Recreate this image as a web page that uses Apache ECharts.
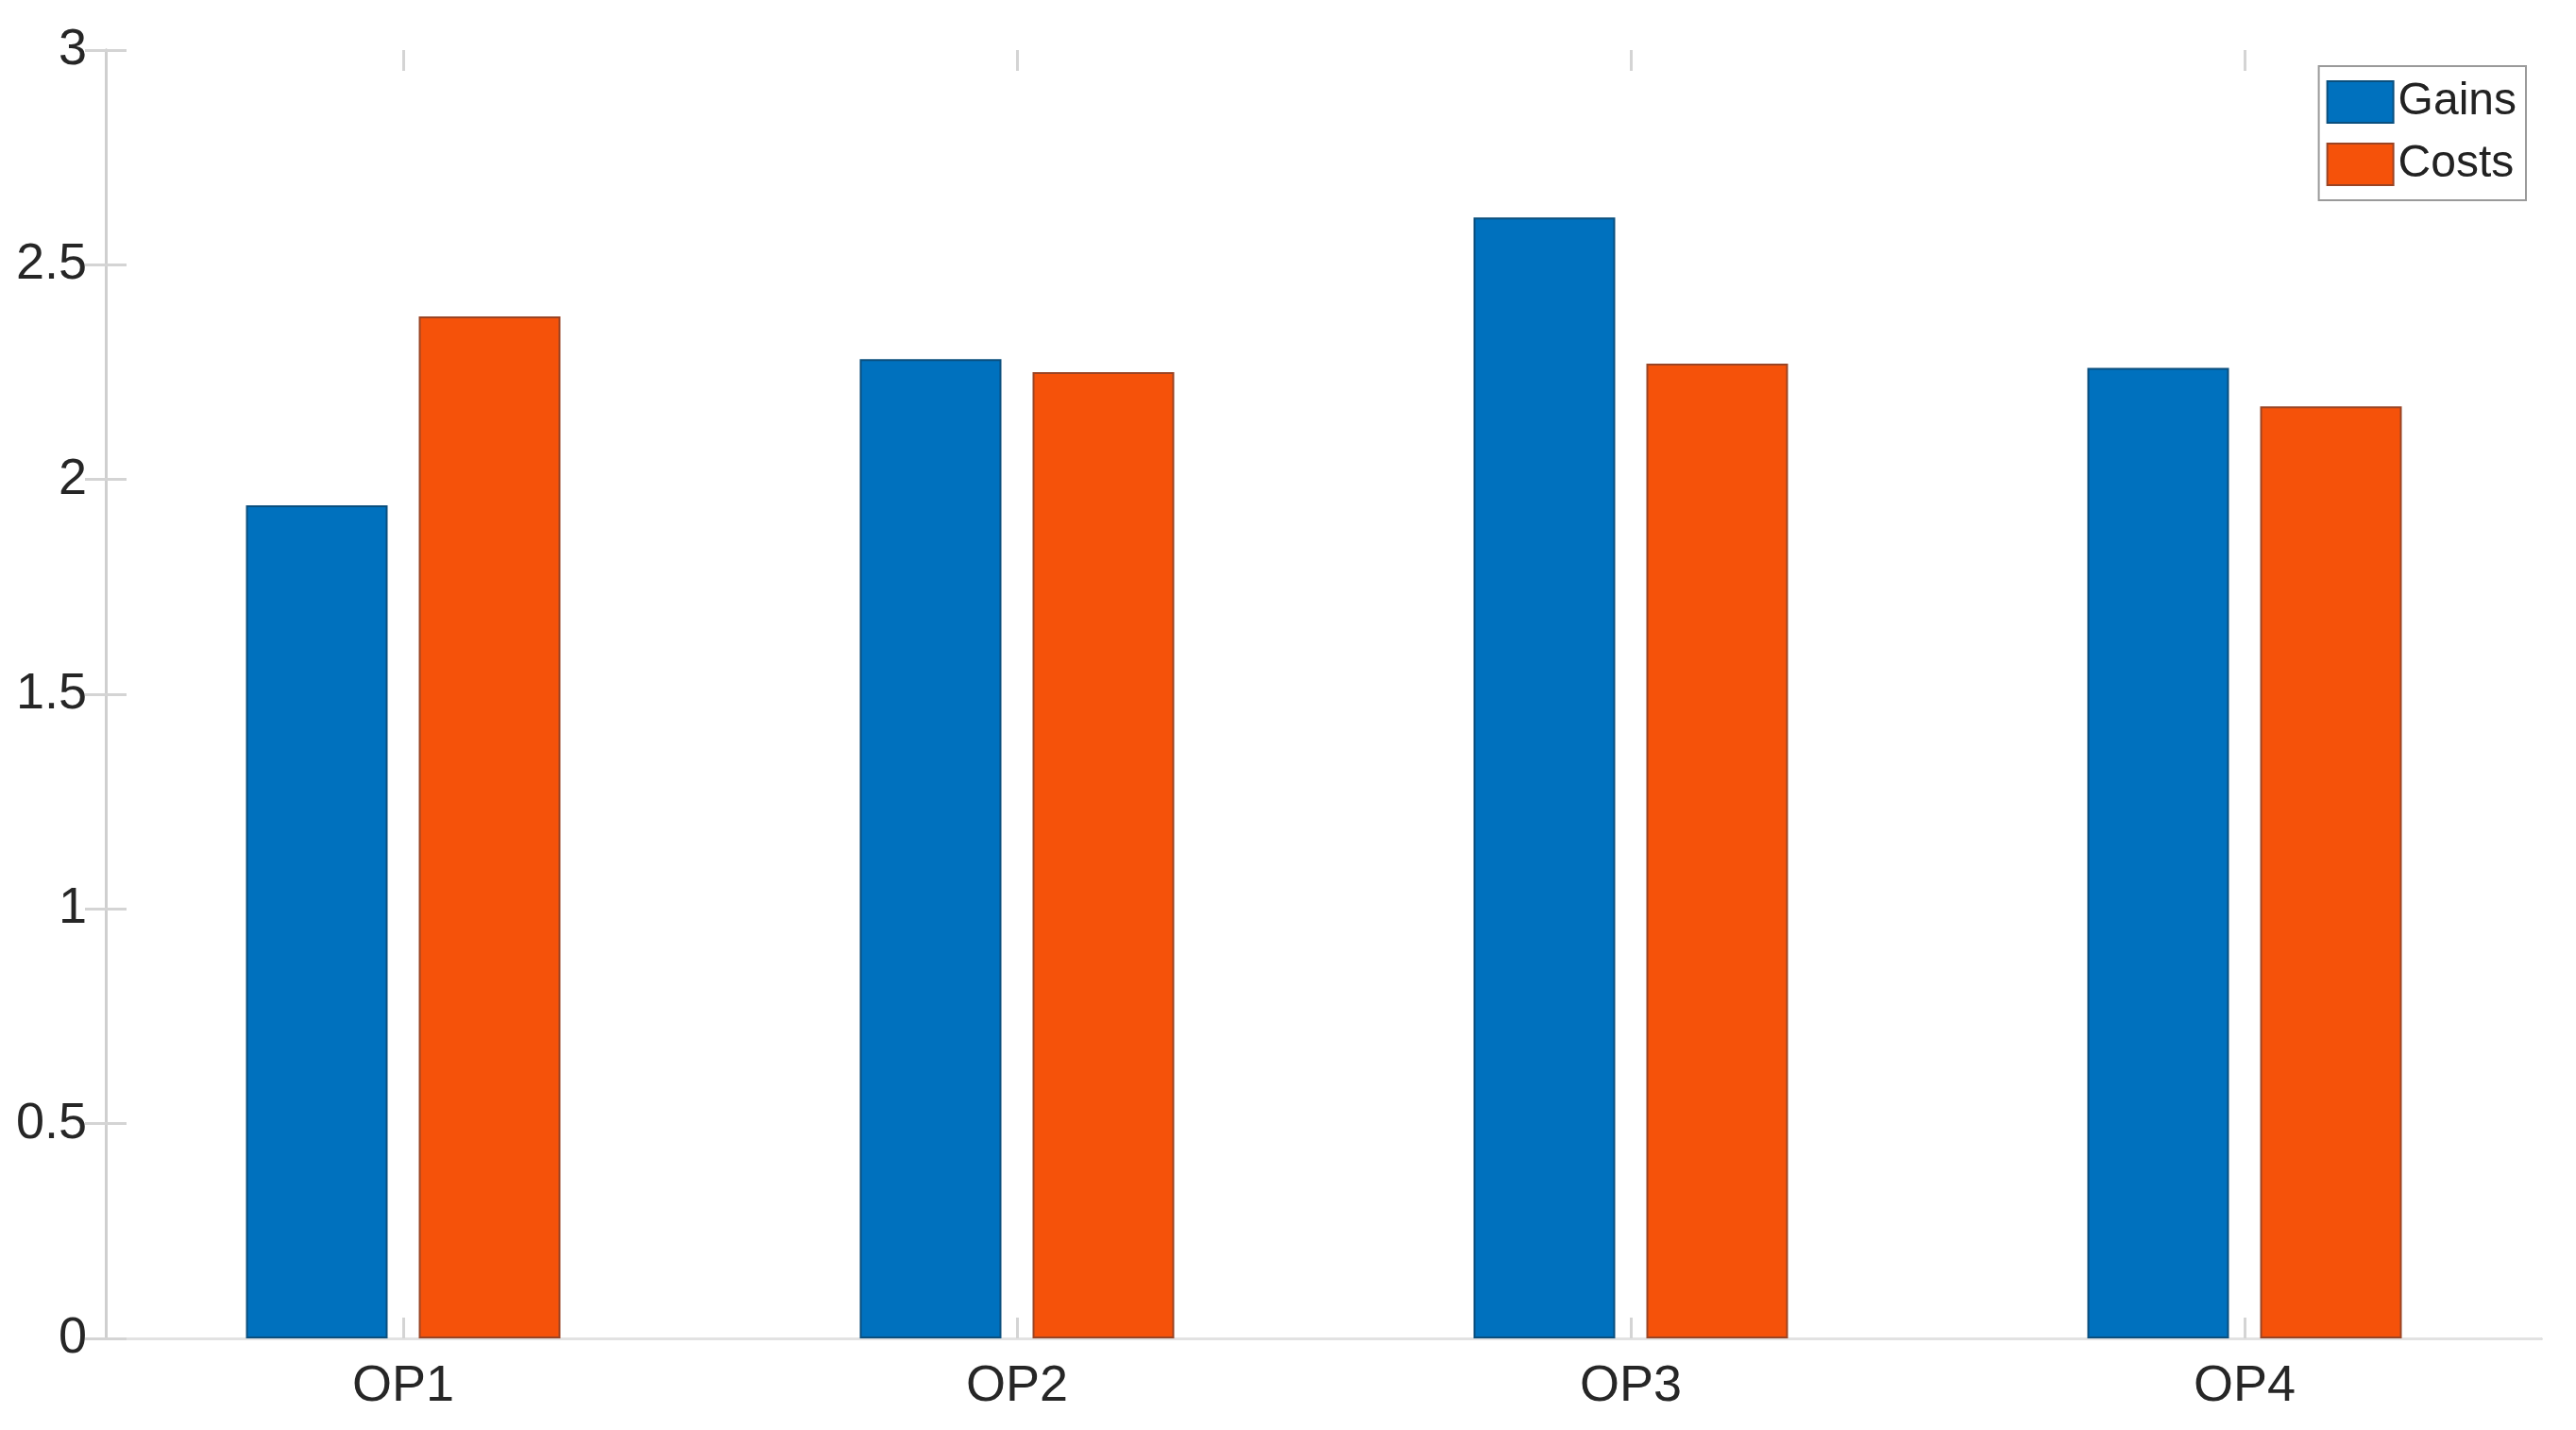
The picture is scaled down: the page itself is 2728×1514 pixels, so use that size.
<!DOCTYPE html>
<html>
<head>
<meta charset="utf-8">
<script src="https://cdn.jsdelivr.net/npm/echarts@6/dist/echarts.min.js"></script>
<style>
  html, body { margin: 0; padding: 0; background: #fff; }
  #chart { width: 2728px; height: 1514px; }
</style>
</head>
<body>
<div id="chart"></div>
<script>
const categories = ["OP1", "OP2", "OP3", "OP4"];
const gains = [1.94, 2.28, 2.61, 2.26];
const costs = [2.38, 2.25, 2.27, 2.17];
const yTicks = [0, 0.5, 1, 1.5, 2, 2.5, 3];

const chart = echarts.init(document.getElementById("chart"));

const font = "'Liberation Sans', Arial, sans-serif";
const tickStyle = { color: "#d4d4d4", width: 3 };

// grid 0 draws the box and y labels, grid 1 holds the bars (xlim is a bit tighter than the box)
const option = {
  backgroundColor: "#ffffff",
  animation: false,
  grid: [
    { left: 112, right: 37, top: 53, bottom: 97 },
    { left: 102, right: 26, top: 53, bottom: 97 },
  ],
  legend: {
    data: ["Gains", "Costs"],
    orient: "vertical",
    right: 53,
    top: 70,
    icon: "rect",
    itemWidth: 70,
    itemHeight: 44,
    itemGap: 18,
    padding: [14, 10, 14, 8],
    borderColor: "#9a9a9a",
    borderWidth: 2,
    backgroundColor: "#ffffff",
    textStyle: { fontFamily: font, fontSize: 48, color: "#222" },
  },
  xAxis: [
    {
      gridIndex: 0,
      type: "value",
      min: 0,
      max: 1,
      position: "bottom",
      axisLine: { show: true, lineStyle: { color: "#c4c4c4", width: 3 } },
      axisTick: { show: false },
      axisLabel: { show: false },
      splitLine: { show: false },
    },
    {
      gridIndex: 0,
      type: "value",
      min: 0,
      max: 1,
      position: "top",
      axisLine: { show: true, lineStyle: { color: "#e2e2e2", width: 3 } },
      axisTick: { show: false },
      axisLabel: { show: false },
      splitLine: { show: false },
    },
    {
      gridIndex: 1,
      type: "category",
      data: categories,
      position: "bottom",
      axisLine: { show: false },
      axisTick: { show: true, inside: true, alignWithLabel: true, length: 22, lineStyle: tickStyle },
      axisLabel: { fontFamily: font, fontSize: 54, color: "#262626", margin: 24 },
    },
    {
      gridIndex: 1,
      type: "category",
      data: categories,
      position: "top",
      axisLine: { show: false },
      axisTick: { show: true, inside: true, alignWithLabel: true, length: 22, lineStyle: tickStyle },
      axisLabel: { show: false },
    },
  ],
  yAxis: [
    {
      gridIndex: 0,
      type: "value",
      min: 0,
      max: 3,
      interval: 0.5,
      position: "left",
      axisLine: { show: true, lineStyle: { color: "#b0b0b0", width: 3 } },
      axisTick: { show: true, inside: true, length: 22, lineStyle: tickStyle },
      axisLabel: {
        fontFamily: font,
        fontSize: 54,
        color: "#262626",
        margin: 20,
        formatter: (v) => (yTicks.includes(v) ? String(v) : ""),
      },
      splitLine: { show: false },
    },
    {
      gridIndex: 0,
      type: "value",
      min: 0,
      max: 3,
      interval: 0.5,
      position: "right",
      axisLine: { show: true, lineStyle: { color: "#cfcfcf", width: 3 } },
      axisTick: { show: true, inside: true, length: 22, lineStyle: tickStyle },
      axisLabel: { show: false },
      splitLine: { show: false },
    },
    {
      gridIndex: 1,
      type: "value",
      min: 0,
      max: 3,
      show: false,
    },
  ],
  series: [
    {
      name: "Gains",
      type: "bar",
      xAxisIndex: 2,
      yAxisIndex: 2,
      data: gains,
      barWidth: 150,
      barGap: "22%",
      itemStyle: { color: "#0071BE", borderColor: "#0a4f7e", borderWidth: 2 },
    },
    {
      name: "Costs",
      type: "bar",
      xAxisIndex: 2,
      yAxisIndex: 2,
      data: costs,
      barWidth: 150,
      barGap: "22%",
      itemStyle: { color: "#F5520A", borderColor: "#9a4424", borderWidth: 2 },
    },
  ],
};

chart.setOption(option);
</script>
</body>
</html>
